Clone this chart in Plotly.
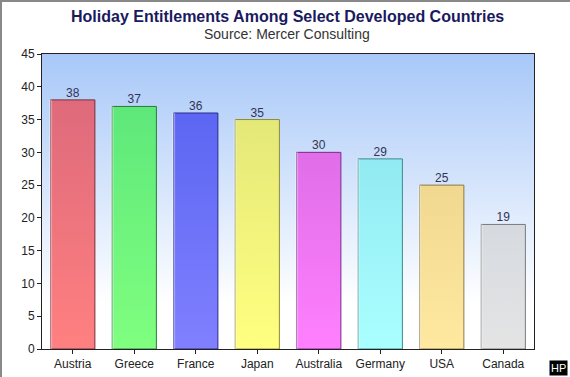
import plotly.graph_objects as go

countries = ["Austria", "Greece", "France", "Japan", "Australia", "Germany", "USA", "Canada"]
days = [38, 37, 36, 35, 30, 29, 25, 19]
top_colors = ["#de6a7b", "#5ee87a", "#5c66f2", "#e4e878", "#e06ee8", "#92eaf2", "#f0d890", "#d6dae0"]
bottom_colors = ["#ff8080", "#80ff80", "#8080ff", "#ffff80", "#ff80ff", "#aaffff", "#ffe8a0", "#e4e4e4"]
edge_colors = ["#7a2a3a", "#2a7a3a", "#2a2a8a", "#8a8a3a", "#7a2a8a", "#3a8a8a", "#8a7a4a", "#7a7a7a"]
y_ticks = [0, 5, 10, 15, 20, 25, 30, 35, 40, 45]

bar_w = 0.72
x_lo, x_hi = -0.5, len(countries) - 0.5
y_lo, y_hi = 0, 45

W, H = 570, 377
ML, MR, MT, MB = 42, 36, 54, 28
PW, PH = W - ML - MR, H - MT - MB

fig = go.Figure()

# plot-area background gradient
fig.add_trace(go.Scatter(
    x=[x_lo, x_hi, x_hi, x_lo, x_lo], y=[y_lo, y_lo, y_hi, y_hi, y_lo],
    fill="toself", mode="lines", line=dict(width=0),
    fillgradient=dict(type="vertical",
                      colorscale=[[0, "#ffffff"], [0.15, "#ffffff"], [1, "#a8c8f8"]]),
    hoverinfo="skip", showlegend=False))

for i, (c, v) in enumerate(zip(countries, days)):
    x0, x1 = i - bar_w / 2, i + bar_w / 2
    fig.add_trace(go.Scatter(
        x=[x0, x1, x1, x0, x0], y=[0, 0, v, v, 0],
        fill="toself", mode="lines",
        line=dict(width=1, color=edge_colors[i]),
        fillgradient=dict(type="vertical",
                          colorscale=[[0, bottom_colors[i]], [1, top_colors[i]]]),
        name=c, showlegend=False))
    # lighter left strip
    fig.add_trace(go.Scatter(
        x=[x0, x0], y=[0, v], mode="lines",
        line=dict(width=3, color="rgba(255,255,255,0.35)"),
        hoverinfo="skip", showlegend=False))

fig.add_trace(go.Scatter(
    x=list(range(len(countries))), y=days, mode="text",
    text=[str(d) for d in days], textposition="top center",
    textfont=dict(size=12, color="#333355", family="Liberation Sans, Arial"),
    hoverinfo="skip", showlegend=False))

fig.update_layout(
    width=W, height=H,
    margin=dict(l=ML, r=MR, t=MT, b=MB, autoexpand=False),
    paper_bgcolor="white", plot_bgcolor="white",
    font=dict(family="Liberation Sans, Arial", size=12, color="#222222"),
    xaxis=dict(range=[x_lo, x_hi], tickvals=list(range(len(countries))), ticktext=countries,
               showgrid=False, zeroline=False, showline=True, linecolor="#222222",
               ticks="outside", ticklen=4, tickcolor="#222222", mirror=True,
               automargin=False, tickfont=dict(size=12, color="#222222")),
    yaxis=dict(range=[y_lo, y_hi], tickvals=y_ticks, showgrid=False, zeroline=False,
               showline=True, linecolor="#222222", ticks="outside", ticklen=4,
               tickcolor="#222222", mirror=True, automargin=False,
               tickfont=dict(size=12, color="#222222")),
    shapes=[dict(type="rect", xref="paper", yref="paper",
                 x0=-(ML - 1) / PW, x1=1 + (MR + 2) / PW, y0=-(MB + 3) / PH, y1=1 + (MT - 1) / PH,
                 line=dict(color="#888888", width=2), fillcolor="rgba(0,0,0,0)", layer="above")],
    annotations=[
        dict(text="<b>Holiday Entitlements Among Select Developed Countries</b>",
             xref="paper", yref="paper", x=(287 - ML) / PW, y=1 + (MT - 16) / PH,
             xanchor="center", yanchor="middle", showarrow=False,
             font=dict(size=16, color="#1a1a5e")),
        dict(text="Source: Mercer Consulting",
             xref="paper", yref="paper", x=(287 - ML) / PW, y=1 + (MT - 34) / PH,
             xanchor="center", yanchor="middle", showarrow=False,
             font=dict(size=14, color="#333333")),
        dict(text="HP", xref="paper", yref="paper", x=1 + (MR - 2) / PW, y=-(MB - 1) / PH,
             xanchor="right", yanchor="bottom", showarrow=False,
             font=dict(color="white", size=11), bgcolor="black", borderpad=1)],
)

fig.write_html("out.html", config={"displayModeBar": False},
               post_script="document.body.style.margin='0';document.body.style.overflow='hidden';")
